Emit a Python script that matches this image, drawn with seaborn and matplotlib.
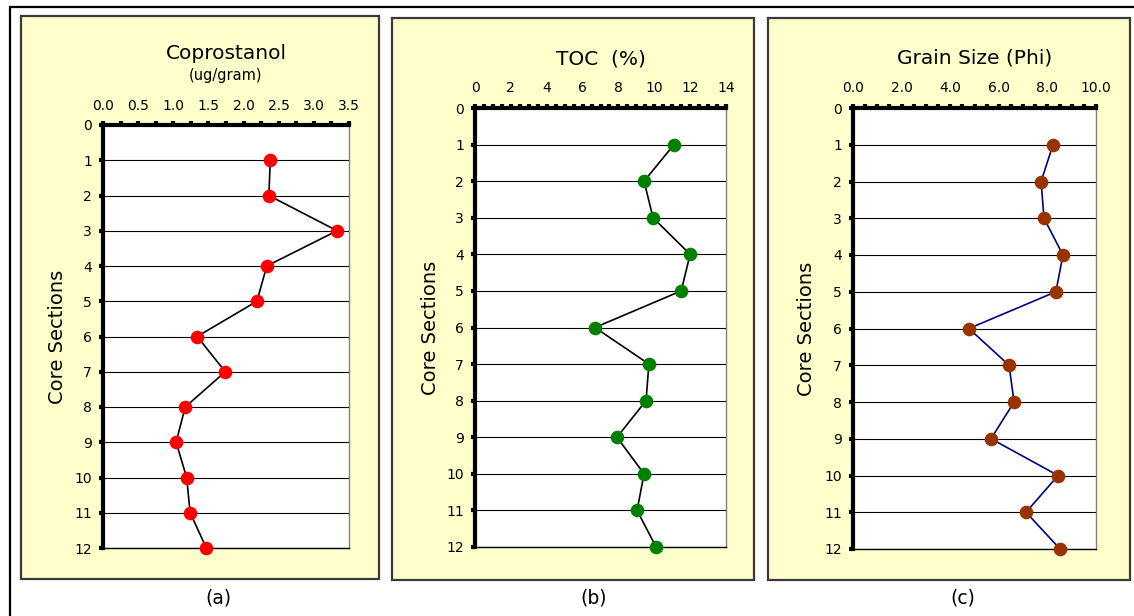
import matplotlib
matplotlib.use("Agg")
import matplotlib.pyplot as plt
import seaborn as sns
from matplotlib.patches import Rectangle
from matplotlib.ticker import MultipleLocator, FormatStrFormatter

sns.set_style("white")
plt.rcParams["font.family"] = ["DejaVu Sans"]
plt.rcParams["text.color"] = "black"

# data
sections = [1, 2, 3, 4, 5, 6, 7, 8, 9, 10, 11, 12]
coprostanol = [2.38, 2.36, 3.33, 2.33, 2.19, 1.34, 1.74, 1.17, 1.04, 1.19, 1.24, 1.47]
toc = [11.1, 9.43, 9.93, 12.0, 11.5, 6.69, 9.7, 9.54, 7.92, 9.43, 9.04, 10.1]
grain_size = [8.23, 7.74, 7.86, 8.64, 8.35, 4.77, 6.42, 6.63, 5.68, 8.44, 7.12, 8.52]

W, H = 1134, 616
fig = plt.figure(figsize=(W / 100, H / 100), dpi=100)

def px(x0, y0, x1, y1):
    # pixel box -> figure fraction [left, bottom, width, height]
    return [x0 / W, 1 - y1 / H, (x1 - x0) / W, (y1 - y0) / H]

# outer frame (top and left edges visible)
fig.patches.append(Rectangle((10 / W, -0.2), 1.5, 1 - 7 / H + 0.2, transform=fig.transFigure,
                             fill=False, edgecolor="black", linewidth=1.6, zorder=-2))

# yellow panel boxes
for box in [(21, 16, 379, 579), (392, 18, 754, 580), (768, 18, 1130, 580)]:
    l, b, w, h = px(*box)
    fig.patches.append(Rectangle((l, b), w, h, transform=fig.transFigure,
                                 facecolor="#FFFFCC", edgecolor="#3a3a3a", linewidth=1.6, zorder=-1))

panels = [
    dict(vals=coprostanol, box=(103, 125, 349, 548), xmax=3.5, major=0.5, minor=0.25, fmt="%.1f",
         title="Coprostanol", sub="(ug/gram)", ty=1.168, face="#FF0000", line="black", ylx=-0.183,
         tag="(a)", tagx=218),
    dict(vals=toc, box=(475, 108, 726, 547), xmax=14, major=2, minor=0.5, fmt="%d",
         title="TOC  (%)", sub=None, ty=1.112, face="#008000", line="black", ylx=-0.179,
         tag="(b)", tagx=594),
    dict(vals=grain_size, box=(853, 108, 1096, 549), xmax=10, major=2, minor=0.5, fmt="%.1f",
         title="Grain Size (Phi)", sub=None, ty=1.114, face="#993300", line="#000080", ylx=-0.193,
         tag="(c)", tagx=963),
]

for p in panels:
    ax = fig.add_axes(px(*p["box"]))
    ax.set_facecolor("white")
    sns.lineplot(x=p["vals"], y=sections, orient="y", ax=ax, color=p["line"], linewidth=1.2,
                 marker="o", markersize=9.8, markerfacecolor=p["face"], markeredgecolor=p["face"],
                 markeredgewidth=0, clip_on=False, zorder=4)
    ax.set_xlim(0, p["xmax"])
    ax.set_ylim(12, 0)
    ax.xaxis.tick_top()
    ax.xaxis.set_major_locator(MultipleLocator(p["major"]))
    ax.xaxis.set_minor_locator(MultipleLocator(p["minor"]))
    ax.xaxis.set_major_formatter(FormatStrFormatter(p["fmt"]))
    ax.yaxis.set_major_locator(MultipleLocator(1))
    ax.tick_params(axis="x", which="both", top=True, bottom=False, direction="out",
                   length=3, width=3, pad=6, labelsize=10, colors="black")
    ax.tick_params(axis="y", which="both", left=True, direction="out",
                   length=3, width=3, pad=5, labelsize=10, colors="black")
    ax.grid(axis="y", color="black", linewidth=0.8)
    ax.grid(axis="x", visible=False)
    ax.set_axisbelow(True)
    for side in ["left", "top"]:
        ax.spines[side].set_linewidth(3)
        ax.spines[side].set_color("black")
        ax.spines[side].set_zorder(5)
    ax.spines["right"].set_color("#808080")
    ax.spines["right"].set_linewidth(1)
    ax.spines["bottom"].set_color("black")
    ax.spines["bottom"].set_linewidth(1)
    ax.set_xlabel("")
    ax.set_ylabel("")
    ax.text(0.5, p["ty"], p["title"], transform=ax.transAxes, ha="center", va="center",
            fontsize=14.5, color="black")
    if p["sub"]:
        ax.text(0.5, 1.116, p["sub"], transform=ax.transAxes, ha="center", va="center",
                fontsize=10.5, color="black")
    ax.text(p["ylx"], 0.5, "Core Sections", transform=ax.transAxes, rotation=90,
            ha="center", va="center", fontsize=14, color="black")
    fig.text(p["tagx"] / W, 1 - 598 / H, p["tag"], ha="center", va="center", fontsize=13.5,
             color="black")

fig.savefig("out.png", dpi=100)
